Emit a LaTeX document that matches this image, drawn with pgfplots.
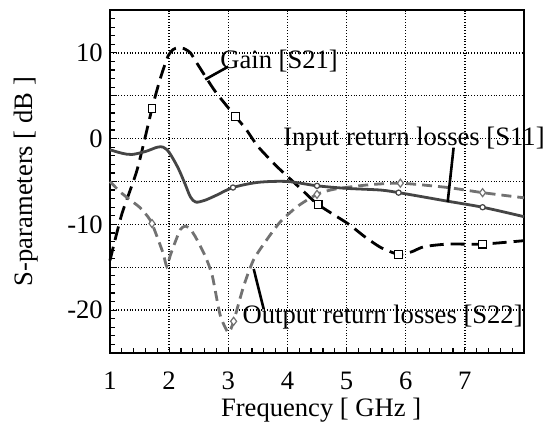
\documentclass[border=0pt]{standalone}
\usepackage{pgfplots}
\pgfplotsset{compat=1.18}
\usepackage{fontspec}
\setmainfont{Liberation Serif}

\definecolor{sone}{HTML}{454545}
\definecolor{stwo}{HTML}{727272}

\begin{document}
\fontsize{13.3}{15}\selectfont
\begin{tikzpicture}
\begin{axis}[
    at={(0,0)}, anchor=south west,
    scale only axis, width=207pt, height=171.5pt,
    xmin=1, xmax=8, ymin=-25, ymax=15,
    xtick={1,...,8}, xticklabels={1,2,3,4,5,6,7,},
    ytick={-25,-20,...,15}, yticklabels={,-20,,-10,,0,,10,},
    minor x tick num=4, minor y tick num=4,
    tick pos=left, tick align=inside,
    major tick length=3pt, minor tick length=2.5pt,
    every tick/.style={black, line width=0.6pt},
    grid=major, grid style={black, densely dotted, line width=0.7pt},
    axis line style={line width=0.8pt},
    /pgf/number format/assume math mode=true,
    xticklabel style={yshift=-5pt},
    yticklabel style={xshift=1pt},
    xlabel={Frequency [ GHz ]}, ylabel={S-parameters [ dB ]},
    every axis x label/.style={at={(axis description cs:0.51,-0.166)}, anchor=center},
    every axis y label/.style={at={(axis description cs:-0.203,0.5)}, rotate=90, anchor=center},
    clip=false,
  ]
  % Gain S21
  \addplot[black, line width=1.4pt, dash pattern=on 7pt off 3.5pt, smooth, tension=0.4] coordinates {
    (1.0,-14.2) (1.2,-8.8) (1.46,-3.6) (1.71,3.5) (1.85,7.0) (1.98,9.6) (2.07,10.4)
    (2.15,10.6) (2.25,10.5) (2.36,10.0) (2.47,8.8) (2.78,5.5) (3.12,2.6) (3.3,1.1)
    (3.5,-0.9) (3.8,-3.1) (4.0,-4.4) (4.25,-6.0) (4.52,-7.7) (5.02,-9.9) (5.3,-11.4)
    (5.58,-12.7) (5.88,-13.5) (6.1,-13.2) (6.31,-12.6) (6.71,-12.3) (7.3,-12.3) (8.0,-11.9)};
  \addplot[only marks, mark=square*, mark size=1.9pt, mark options={fill=white, draw=black, line width=0.6pt}] coordinates {
    (1.71,3.5) (3.12,2.6) (4.52,-7.7) (5.88,-13.5) (7.3,-12.3)};
  % Output return losses S22
  \addplot[stwo, line width=1.4pt, dash pattern=on 5pt off 3pt, smooth, tension=0.4] coordinates {
    (1.0,-5.0) (1.17,-6.2) (1.35,-7.2) (1.5,-8.0) (1.64,-9.1) (1.71,-9.9) (1.81,-11.7)
    (1.9,-13.4) (1.96,-14.9) (2.02,-13.6) (2.1,-12.1) (2.19,-10.6) (2.27,-10.2) (2.35,-10.5)
    (2.44,-11.4) (2.61,-13.7) (2.73,-16.0) (2.86,-20.5) (3.0,-22.6) (3.09,-21.3) (3.26,-17.2)
    (3.43,-14.1) (3.66,-11.7) (3.88,-9.7) (4.17,-7.9) (4.5,-6.5) (4.79,-5.9) (5.35,-5.4)
    (5.91,-5.2) (6.71,-5.7) (7.3,-6.3) (8.0,-6.9)};
  \addplot[only marks, mark=diamond*, mark size=2pt, mark options={fill=white, draw=stwo, line width=0.6pt}] coordinates {
    (1.71,-9.9) (3.09,-21.3) (4.5,-6.5) (5.91,-5.2) (7.3,-6.3)};
  % Input return losses S11
  \addplot[sone, line width=1.4pt, smooth, tension=0.5] coordinates {
    (1.0,-1.3) (1.2,-1.7) (1.37,-1.85) (1.6,-1.5) (1.8,-1.0) (1.9,-1.0) (2.0,-1.6)
    (2.15,-3.4) (2.27,-5.3) (2.36,-6.8) (2.45,-7.4) (2.6,-7.2) (2.8,-6.6) (3.08,-5.7)
    (3.5,-5.1) (4.0,-5.0) (4.5,-5.5) (5.0,-5.8) (5.58,-6.0) (5.88,-6.3) (6.3,-6.8)
    (6.71,-7.3) (7.3,-8.0) (8.0,-9.1)};
  \addplot[only marks, mark=*, mark size=1.3pt, mark options={fill=white, draw=sone, line width=0.6pt}] coordinates {
    (3.08,-5.7) (4.5,-5.5) (5.88,-6.3) (7.3,-8.0)};
  % annotations
  \draw[black, line width=1.3pt] (axis cs:2.61,6.9) -- (axis cs:3.0,8.4);
  \node[anchor=center] at (axis cs:3.86,9.0) {Gain [S21]};
  \draw[black, line width=1.3pt] (axis cs:6.81,-1.05) -- (axis cs:6.71,-7.4);
  \node[anchor=center] at (axis cs:6.14,0.0) {Input return losses [S11]};
  \draw[black, line width=1.3pt] (axis cs:3.43,-15.2) -- (axis cs:3.6,-19.9);
  \node[anchor=center] at (axis cs:5.61,-20.8) {Output return losses [S22]};
\end{axis}
\pgfresetboundingbox
\path[use as bounding box] (-55pt,-38.5pt) rectangle (220.5pt,176.5pt);
\end{tikzpicture}
\end{document}
